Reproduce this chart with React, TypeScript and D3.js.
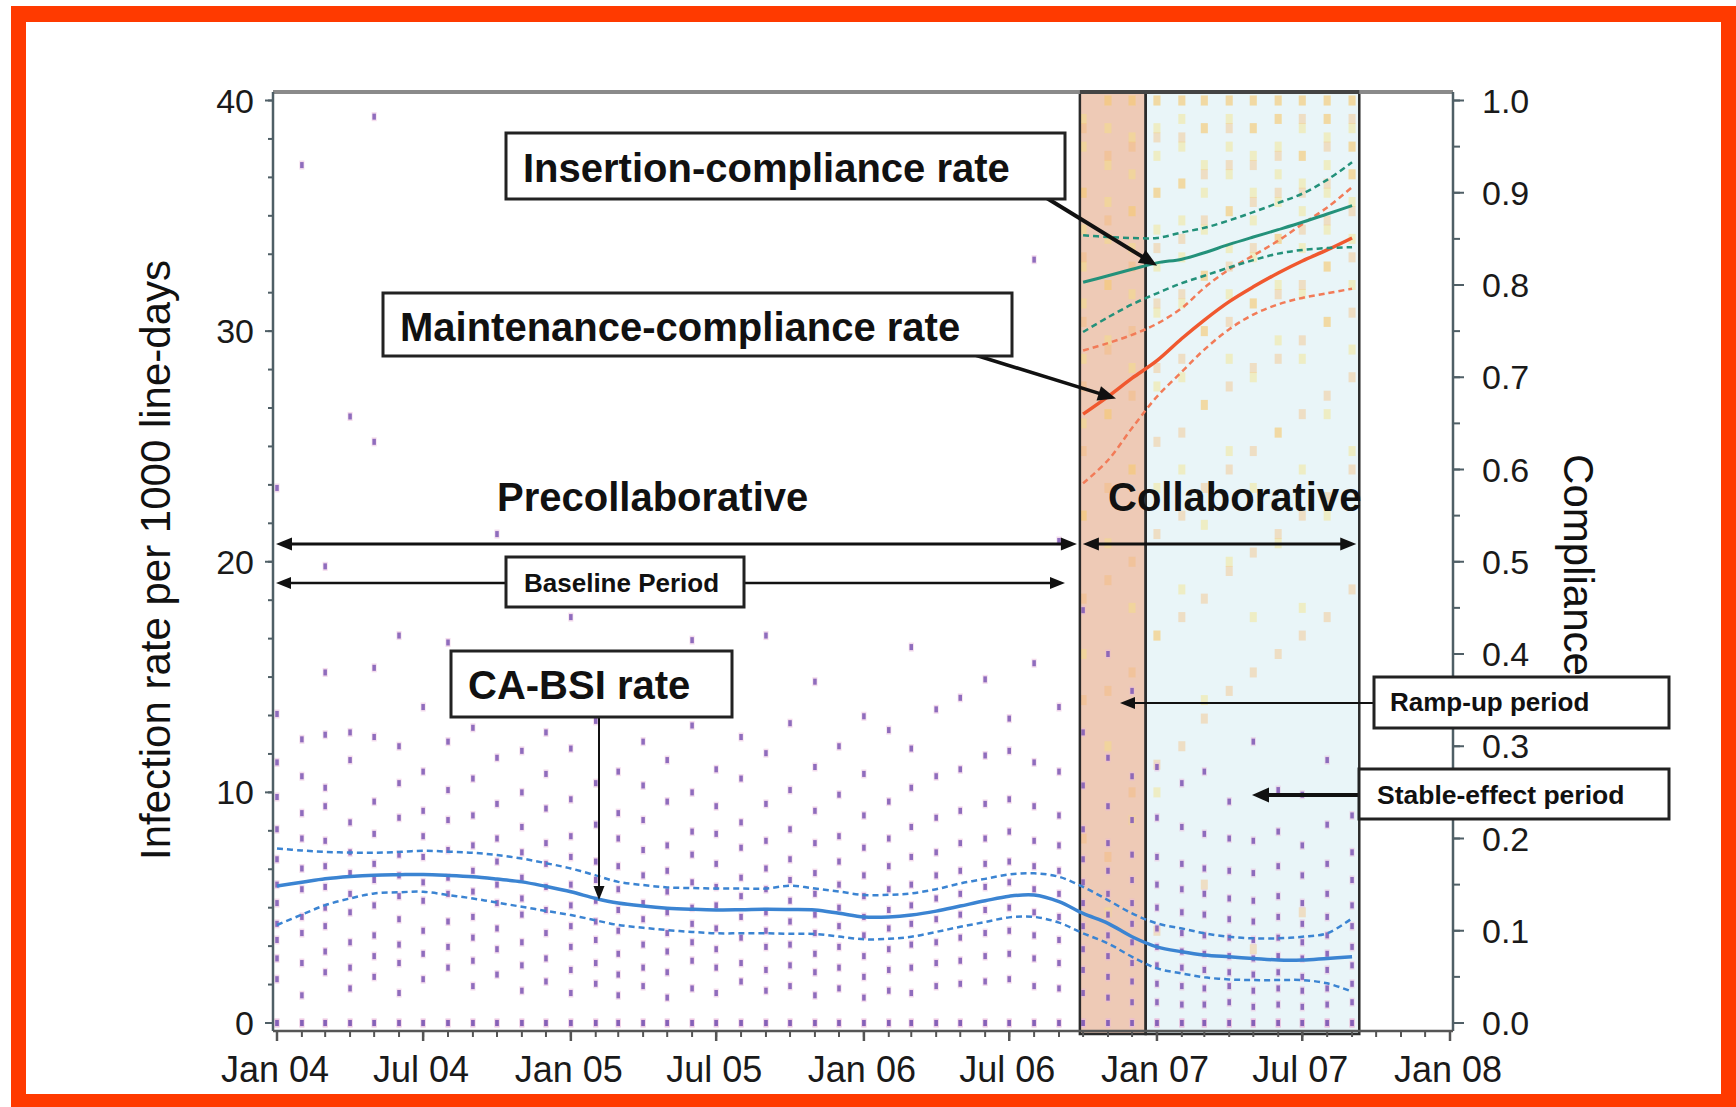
import React from 'react';
import * as d3 from 'd3';

const W = 1736;
const H = 1107;

// ---------- data ----------
const RATE_START = '2004-01-01';
const RATE_END = '2007-10-01'; // exclusive
const COMP_START = '2006-10-01';
const COMP_END = '2007-10-01'; // exclusive

// CA-BSI smoothed rate (per 1000 line-days), monthly Jan 04 .. Sep 07
const rateCurve = [5.94, 6.1, 6.25, 6.35, 6.41, 6.43, 6.44, 6.4, 6.34, 6.24, 6.12, 5.92,
  5.69, 5.4, 5.2, 5.07, 4.98, 4.93, 4.9, 4.91, 4.93, 4.92, 4.9, 4.76,
  4.6, 4.6, 4.68, 4.85, 5.07, 5.3, 5.5, 5.55, 5.26, 4.75, 4.32, 3.74,
  3.3, 3.09, 2.95, 2.87, 2.8, 2.73, 2.73, 2.8, 2.87];
const rateUpper = [7.57, 7.48, 7.42, 7.39, 7.38, 7.42, 7.47, 7.43, 7.38, 7.28, 7.13, 6.93,
  6.7, 6.4, 6.12, 5.98, 5.88, 5.85, 5.83, 5.83, 5.83, 5.95, 5.83, 5.7,
  5.55, 5.56, 5.62, 5.8, 6.05, 6.25, 6.44, 6.49, 6.34, 5.9, 5.33, 4.75,
  4.32, 4.1, 3.89, 3.74, 3.67, 3.67, 3.74, 3.89, 4.54];
const rateLower = [4.25, 4.7, 5.11, 5.4, 5.62, 5.67, 5.69, 5.55, 5.4, 5.22, 5.04, 4.86,
  4.68, 4.45, 4.25, 4.13, 4.03, 3.95, 3.89, 3.89, 3.89, 3.87, 3.86, 3.75,
  3.63, 3.65, 3.74, 3.95, 4.17, 4.38, 4.58, 4.6, 4.35, 3.89, 3.45, 2.87,
  2.37, 2.15, 1.98, 1.89, 1.86, 1.86, 1.86, 1.72, 1.36];

// monthly unit-level infection rates (scatter)
const ratePoints: number[][] = [
  [0, 0, 1.9, 2.8, 3.6, 4.3, 5.2, 6.0, 7.1, 8.4, 9.8, 11.3, 13.4, 23.2],
  [0, 0, 1.2, 2.6, 3.9, 4.6, 5.8, 6.7, 8.0, 9.1, 10.7, 12.3, 37.2],
  [0, 0, 2.2, 3.1, 4.2, 5.0, 5.9, 6.8, 7.9, 9.4, 10.2, 12.5, 15.2, 19.8],
  [0, 0, 1.5, 2.4, 3.5, 4.8, 5.6, 6.5, 7.4, 8.7, 11.4, 12.6, 26.3],
  [0, 0, 2.0, 2.9, 3.8, 5.1, 6.2, 6.9, 8.2, 9.6, 12.4, 15.4, 25.2, 39.3],
  [0, 0, 1.3, 2.6, 3.4, 4.5, 5.5, 6.4, 7.3, 8.9, 10.4, 12.0, 16.8],
  [0, 0, 1.9, 3.0, 4.0, 5.3, 6.1, 7.2, 8.1, 9.2, 10.9, 13.7],
  [0, 0, 2.4, 3.3, 4.4, 5.6, 6.3, 7.5, 8.8, 10.1, 12.2, 16.5],
  [0, 0, 1.6, 2.7, 3.7, 4.6, 5.7, 6.6, 7.7, 9.0, 10.6, 12.8],
  [0, 0, 2.1, 3.2, 4.1, 5.2, 6.0, 7.0, 8.0, 9.5, 11.5, 13.6, 21.2],
  [0, 0, 1.4, 2.5, 3.5, 4.7, 5.4, 6.3, 7.4, 8.5, 10.0, 11.8, 14.5],
  [0, 0, 1.8, 2.8, 3.9, 4.9, 5.9, 6.9, 7.8, 9.3, 10.8, 12.6],
  [0, 0, 1.3, 2.3, 3.3, 4.2, 5.1, 6.0, 7.2, 8.1, 9.7, 11.9, 17.6],
  [0, 0, 1.7, 2.6, 3.6, 4.4, 5.3, 6.2, 7.0, 8.6, 10.4, 13.1],
  [0, 0, 1.2, 2.1, 3.0, 4.0, 4.9, 5.8, 6.8, 8.0, 9.1, 10.9, 15.1],
  [0, 0, 1.6, 2.4, 3.4, 4.5, 5.2, 6.4, 7.5, 8.8, 10.3, 12.2],
  [0, 0, 1.1, 2.2, 3.1, 3.9, 4.8, 5.7, 6.6, 7.7, 9.6, 11.4, 14.0],
  [0, 0, 1.5, 2.7, 3.5, 4.3, 5.0, 6.1, 7.3, 8.3, 10.0, 12.9, 16.6],
  [0, 0, 1.3, 2.4, 3.2, 4.1, 5.1, 5.9, 6.9, 8.2, 9.4, 11.0],
  [0, 0, 1.8, 2.6, 3.7, 4.6, 5.5, 6.3, 7.6, 8.7, 10.6, 12.4],
  [0, 0, 1.4, 2.3, 3.3, 4.0, 4.8, 5.8, 6.7, 7.9, 9.5, 11.7, 16.8],
  [0, 0, 1.6, 2.5, 3.4, 4.4, 5.3, 6.2, 7.1, 8.4, 10.1, 13.0],
  [0, 0, 1.2, 2.2, 3.0, 3.9, 4.7, 5.6, 6.5, 7.8, 9.2, 11.1, 14.8],
  [0, 0, 1.5, 2.4, 3.3, 4.2, 5.0, 6.0, 7.0, 8.1, 9.9, 12.0],
  [0, 0, 1.1, 2.0, 2.9, 3.8, 4.6, 5.5, 6.4, 7.6, 9.0, 10.8, 13.3],
  [0, 0, 1.4, 2.3, 3.2, 4.1, 4.9, 5.8, 6.8, 8.0, 9.6, 12.7],
  [0, 0, 1.3, 2.4, 3.4, 4.3, 5.1, 6.0, 7.2, 8.5, 10.2, 11.9, 16.3],
  [0, 0, 1.6, 2.6, 3.5, 4.5, 5.4, 6.4, 7.4, 8.9, 10.7, 13.6],
  [0, 0, 1.7, 2.7, 3.7, 4.7, 5.6, 6.6, 7.8, 9.2, 11.0, 14.1],
  [0, 0, 1.8, 2.9, 3.9, 4.9, 5.9, 6.9, 8.0, 9.5, 11.6, 14.9],
  [0, 0, 1.9, 3.0, 4.0, 5.0, 6.1, 7.0, 8.3, 9.7, 11.8, 13.2],
  [0, 0, 1.6, 2.8, 3.8, 4.8, 5.8, 6.8, 7.9, 9.4, 11.3, 15.6, 33.1],
  [0, 0, 1.5, 2.6, 3.6, 4.6, 5.6, 6.6, 7.7, 9.0, 10.9, 13.7, 20.9],
  [0, 0, 1.3, 2.3, 3.2, 4.2, 5.2, 6.1, 7.1, 8.4, 10.3, 12.6, 17.9],
  [0, 0, 1.1, 2.0, 2.9, 3.8, 4.7, 5.6, 6.6, 7.8, 9.4, 11.5, 16.0],
  [0, 0, 0.9, 1.8, 2.6, 3.5, 4.3, 5.2, 6.2, 7.3, 8.8, 10.7, 14.4],
  [0, 0, 0, 0.9, 1.7, 2.5, 3.3, 4.1, 5.0, 6.0, 7.2, 8.9, 11.1],
  [0, 0, 0, 0.8, 1.6, 2.4, 3.1, 3.9, 4.8, 5.8, 6.9, 8.5, 10.4],
  [0, 0, 0, 0.8, 1.5, 2.3, 3.0, 3.8, 4.7, 5.6, 6.7, 8.2, 10.9],
  [0, 0, 0, 0.9, 1.6, 2.2, 2.9, 3.7, 4.5, 5.4, 6.6, 8.0, 9.6],
  [0, 0, 0, 0.7, 1.4, 2.1, 2.8, 3.6, 4.4, 5.3, 6.5, 7.9, 12.2],
  [0, 0, 0, 0.8, 1.5, 2.2, 2.9, 3.7, 4.6, 5.5, 6.8, 8.3, 10.1],
  [0, 0, 0, 0.7, 1.4, 2.0, 2.8, 3.5, 4.3, 5.2, 6.4, 7.7, 9.9],
  [0, 0, 0, 0.8, 1.5, 2.3, 3.0, 3.8, 4.6, 5.6, 6.9, 8.6, 11.4],
  [0, 0, 0, 0.9, 1.7, 2.5, 3.3, 4.2, 5.1, 6.2, 7.4, 9.0],
];

// compliance, monthly Oct 06 .. Sep 07
const insertionRate = [0.803, 0.81, 0.817, 0.824, 0.828, 0.835, 0.844, 0.852, 0.86, 0.868, 0.877, 0.886];
const insertionUpper = [0.854, 0.852, 0.851, 0.851, 0.857, 0.862, 0.87, 0.879, 0.889, 0.899, 0.914, 0.933];
const insertionLower = [0.749, 0.765, 0.779, 0.791, 0.802, 0.81, 0.819, 0.827, 0.834, 0.838, 0.84, 0.841];
const maintenanceRate = [0.66, 0.679, 0.699, 0.718, 0.742, 0.762, 0.782, 0.798, 0.813, 0.826, 0.838, 0.851];
const maintenanceUpper = [0.729, 0.737, 0.746, 0.758, 0.775, 0.797, 0.817, 0.832, 0.848, 0.866, 0.884, 0.906];
const maintenanceLower = [0.585, 0.61, 0.645, 0.679, 0.706, 0.73, 0.752, 0.768, 0.779, 0.786, 0.791, 0.796];

const insertionPoints: number[][] = [
  [0.98, 0.95, 0.9, 0.86, 0.82, 0.78, 0.72, 0.65, 0.55, 0.4],
  [1.0, 0.97, 0.93, 0.89, 0.85, 0.8, 0.74, 0.66, 0.52, 0.3, 0.12],
  [1.0, 0.96, 0.92, 0.88, 0.84, 0.79, 0.71, 0.6, 0.45, 0.22],
  [1.0, 0.97, 0.94, 0.9, 0.86, 0.82, 0.77, 0.69, 0.58, 0.42, 0.25],
  [1.0, 0.98, 0.95, 0.91, 0.87, 0.83, 0.78, 0.7, 0.6, 0.47],
  [1.0, 0.97, 0.93, 0.9, 0.86, 0.81, 0.75, 0.67, 0.54, 0.35],
  [1.0, 0.98, 0.95, 0.92, 0.88, 0.84, 0.79, 0.72, 0.62, 0.5],
  [1.0, 0.97, 0.94, 0.9, 0.87, 0.83, 0.78, 0.7, 0.58, 0.44],
  [1.0, 0.98, 0.95, 0.92, 0.89, 0.85, 0.8, 0.74, 0.64, 0.52],
  [1.0, 0.97, 0.94, 0.91, 0.88, 0.84, 0.79, 0.72, 0.6, 0.45],
  [1.0, 0.98, 0.96, 0.93, 0.9, 0.86, 0.82, 0.76, 0.66, 0.55],
  [1.0, 0.97, 0.95, 0.92, 0.89, 0.85, 0.8, 0.73, 0.62],
];
const maintenancePoints: number[][] = [
  [0.97, 0.9, 0.83, 0.76, 0.69, 0.62, 0.55, 0.46, 0.35, 0.2],
  [1.0, 0.94, 0.87, 0.8, 0.73, 0.66, 0.58, 0.48, 0.36, 0.18],
  [1.0, 0.95, 0.88, 0.82, 0.75, 0.68, 0.6, 0.5, 0.38, 0.25],
  [1.0, 0.96, 0.9, 0.84, 0.78, 0.71, 0.63, 0.53, 0.42, 0.28, 0.1],
  [1.0, 0.96, 0.91, 0.85, 0.79, 0.72, 0.64, 0.55, 0.44, 0.3],
  [1.0, 0.97, 0.92, 0.87, 0.81, 0.75, 0.67, 0.58, 0.46, 0.33, 0.15],
  [1.0, 0.97, 0.93, 0.88, 0.82, 0.76, 0.69, 0.6, 0.49, 0.36],
  [1.0, 0.97, 0.93, 0.89, 0.84, 0.78, 0.71, 0.62, 0.51, 0.38, 0.08],
  [1.0, 0.98, 0.94, 0.9, 0.85, 0.79, 0.72, 0.64, 0.53, 0.4],
  [1.0, 0.98, 0.94, 0.9, 0.86, 0.8, 0.74, 0.66, 0.55, 0.42, 0.12],
  [1.0, 0.98, 0.95, 0.91, 0.87, 0.82, 0.76, 0.68, 0.57, 0.44],
  [1.0, 0.98, 0.95, 0.92, 0.88, 0.83, 0.77, 0.7, 0.6, 0.47],
];

const periodBounds = ['2006-09-27', '2006-12-18', '2007-09-10']; // ramp-up start, stable start, end
const leftTicks = [0, 10, 20, 30, 40];
const rightTicks = [0, 0.1, 0.2, 0.3, 0.4, 0.5, 0.6, 0.7, 0.8, 0.9, 1.0];
const xDomain = ['2004-01-01', '2008-01-01'];

// ---------- helpers ----------
const parse = d3.timeParse('%Y-%m-%d');
const FONT = "'Liberation Sans', Arial, Helvetica, sans-serif";

const x = d3.scaleTime().domain(xDomain.map((s) => parse(s) as Date)).range([277, 1450]);
const yL = d3.scaleLinear().domain([0, 40]).range([1023, 100.5]);
const yR = d3.scaleLinear().domain([0, 1]).range([1023, 100.5]);

const rateMonths = d3.timeMonth.range(parse(RATE_START) as Date, parse(RATE_END) as Date);
const compMonths = d3.timeMonth.range(parse(COMP_START) as Date, parse(COMP_END) as Date);

const FRAME = { left: 273, right: 1453, top: 92, bottom: 1031 };

function linePath(dates: Date[], vals: number[], y: d3.ScaleLinear<number, number>) {
  const g = d3
    .line<number>()
    .x((_, i) => x(dates[i]))
    .y((v) => y(v))
    .curve(d3.curveCatmullRom.alpha(0.5));
  return g(vals) || '';
}

function arrowHead(x2: number, y2: number, ang: number, len: number, wid: number) {
  const bx = x2 - len * Math.cos(ang);
  const by = y2 - len * Math.sin(ang);
  const px = -Math.sin(ang) * wid / 2;
  const py = Math.cos(ang) * wid / 2;
  return `M${x2},${y2}L${bx + px},${by + py}L${bx - px},${by - py}Z`;
}

function Arrow(props: { x1: number; y1: number; x2: number; y2: number; w: number; len: number; wid: number; both?: boolean }) {
  const { x1, y1, x2, y2, w, len, wid, both } = props;
  const ang = Math.atan2(y2 - y1, x2 - x1);
  const sx = both ? x1 + (len - 2) * Math.cos(ang) : x1;
  const sy = both ? y1 + (len - 2) * Math.sin(ang) : y1;
  const ex = x2 - (len - 2) * Math.cos(ang);
  const ey = y2 - (len - 2) * Math.sin(ang);
  return (
    <g>
      <line x1={sx} y1={sy} x2={ex} y2={ey} stroke="#111" strokeWidth={w} />
      <path d={arrowHead(x2, y2, ang, len, wid)} fill="#111" />
      {both && <path d={arrowHead(x1, y1, ang + Math.PI, len, wid)} fill="#111" />}
    </g>
  );
}

function Box(props: { x0: number; y0: number; x1: number; y1: number; label: string; size: number; tx: number; ty: number }) {
  const { x0, y0, x1, y1, label, size, tx, ty } = props;
  return (
    <g>
      <rect x={x0} y={y0} width={x1 - x0} height={y1 - y0} fill="#fff" stroke="#222" strokeWidth={3} />
      <text x={tx} y={ty} fontSize={size} fontWeight="bold" fontFamily={FONT} fill="#111">
        {label}
      </text>
    </g>
  );
}

export default function App() {
  const pb = periodBounds.map((s) => x(parse(s) as Date));
  const leftMinor = d3.range(0, 40.001, 10 / 6);
  const rightMinor = d3.range(0, 1.0001, 0.05);
  const monthTicks = d3.timeMonth.range(parse(xDomain[0]) as Date, d3.timeDay.offset(parse(xDomain[1]) as Date, 1));
  const majorTicks = d3.timeMonth.every(6)!.range(parse(xDomain[0]) as Date, d3.timeDay.offset(parse(xDomain[1]) as Date, 1));
  const fmt = d3.timeFormat('%b %y');

  const blue = '#3b84d2';
  const teal = '#23917a';
  const orange = '#f0582f';

  return (
    <svg width={W} height={H} style={{ position: 'absolute', left: 0, top: 0, background: '#fff' }}>
      {/* red frame */}
      <rect x={0} y={0} width={W} height={H} fill="#fff" />
      <rect x={11} y={6} width={W - 11} height={H - 6} fill="#ff3a00" />
      <rect x={26} y={22} width={1721 - 26} height={1094 - 22} fill="#fff" />

      {/* period bands */}
      <rect x={pb[0]} y={FRAME.top} width={pb[1] - pb[0]} height={1034 - FRAME.top} fill="#eecab6" />
      <rect x={pb[1]} y={FRAME.top} width={pb[2] - pb[1]} height={1034 - FRAME.top} fill="#e9f5f8" />

      {/* compliance scatter */}
      <g>
        {compMonths.map((d, i) => (
          <g key={'ip' + i}>
            {insertionPoints[i].map((v, j) => (
              <rect key={j} x={x(d) - 3.5} y={yR(v) - 5} width={7} height={10} fill="#f6e27c" opacity={0.42} />
            ))}
            {maintenancePoints[i].map((v, j) => (
              <rect key={'m' + j} x={x(d) - 3.5} y={yR(v) - 5} width={7} height={10} fill="#f6b86e" opacity={0.38} />
            ))}
          </g>
        ))}
      </g>

      {/* infection-rate scatter */}
      <g>
        {rateMonths.map((d, i) => (
          <g key={'rp' + i}>
            {ratePoints[i].map((v, j) => (
              <g key={j}>
                <rect x={x(d) - 2.5} y={yL(v) - 4.5} width={5} height={9} fill="#eab9dc" opacity={0.5} />
                <rect x={x(d) - 1.75} y={yL(v) - 3} width={3.5} height={6} fill="#7c58b4" opacity={0.85} />
              </g>
            ))}
          </g>
        ))}
      </g>

      {/* band outlines */}
      <rect x={pb[0]} y={FRAME.top} width={pb[1] - pb[0]} height={1034 - FRAME.top} fill="none" stroke="#2b2b2b" strokeWidth={2.5} />
      <rect x={pb[1]} y={FRAME.top} width={pb[2] - pb[1]} height={1034 - FRAME.top} fill="none" stroke="#2b2b2b" strokeWidth={2.5} />

      {/* CA-BSI curves */}
      <path d={linePath(rateMonths, rateUpper, yL)} fill="none" stroke={blue} strokeWidth={2.5} strokeDasharray="6,4" />
      <path d={linePath(rateMonths, rateLower, yL)} fill="none" stroke={blue} strokeWidth={2.5} strokeDasharray="6,4" />
      <path d={linePath(rateMonths, rateCurve, yL)} fill="none" stroke={blue} strokeWidth={3.5} />

      {/* compliance curves */}
      <path d={linePath(compMonths, maintenanceUpper, yR)} fill="none" stroke="#f27b58" strokeWidth={2.5} strokeDasharray="6,4" />
      <path d={linePath(compMonths, maintenanceLower, yR)} fill="none" stroke="#f27b58" strokeWidth={2.5} strokeDasharray="6,4" />
      <path d={linePath(compMonths, maintenanceRate, yR)} fill="none" stroke={orange} strokeWidth={3.5} />
      <path d={linePath(compMonths, insertionUpper, yR)} fill="none" stroke={teal} strokeWidth={2.5} strokeDasharray="6,4" />
      <path d={linePath(compMonths, insertionLower, yR)} fill="none" stroke={teal} strokeWidth={2.5} strokeDasharray="6,4" />
      <path d={linePath(compMonths, insertionRate, yR)} fill="none" stroke={teal} strokeWidth={3} />

      {/* frame / axes */}
      <line x1={FRAME.left} y1={FRAME.top} x2={FRAME.right} y2={FRAME.top} stroke="#8a8a8a" strokeWidth={4} />
      <line x1={pb[0]} y1={FRAME.top} x2={pb[2]} y2={FRAME.top} stroke="#444" strokeWidth={4} />
      <line x1={FRAME.left} y1={FRAME.top} x2={FRAME.left} y2={FRAME.bottom} stroke="#4f5f66" strokeWidth={2.5} />
      <line x1={FRAME.right} y1={FRAME.top} x2={FRAME.right} y2={FRAME.bottom} stroke="#4f5f66" strokeWidth={2.5} />
      <line x1={FRAME.left} y1={FRAME.bottom} x2={FRAME.right} y2={FRAME.bottom} stroke="#555" strokeWidth={2.5} />

      {/* left axis ticks */}
      {leftMinor.map((v, i) => (
        <line key={'lm' + i} x1={FRAME.left - 5} x2={FRAME.left} y1={yL(v)} y2={yL(v)} stroke="#4f5f66" strokeWidth={2} />
      ))}
      {leftTicks.map((v) => (
        <g key={'lt' + v}>
          <line x1={FRAME.left - 8} x2={FRAME.left} y1={yL(v)} y2={yL(v)} stroke="#4f5f66" strokeWidth={2} />
          <text x={254} y={yL(v) + 12} textAnchor="end" fontSize={34} fontFamily={FONT} fill="#1a1a1a">
            {v}
          </text>
        </g>
      ))}

      {/* right axis ticks */}
      {rightMinor.map((v, i) => (
        <line key={'rm' + i} x1={FRAME.right} x2={FRAME.right + 7} y1={yR(v)} y2={yR(v)} stroke="#4f5f66" strokeWidth={2} />
      ))}
      {rightTicks.map((v) => (
        <g key={'rt' + v}>
          <line x1={FRAME.right} x2={FRAME.right + 11} y1={yR(v)} y2={yR(v)} stroke="#4f5f66" strokeWidth={2} />
          <text x={1482} y={yR(v) + 12} fontSize={34} fontFamily={FONT} fill="#1a1a1a">
            {v.toFixed(1)}
          </text>
        </g>
      ))}

      {/* x axis ticks */}
      {monthTicks.map((d, i) => (
        <line key={'xm' + i} x1={x(d)} x2={x(d)} y1={FRAME.bottom} y2={FRAME.bottom + 6} stroke="#555" strokeWidth={2} />
      ))}
      {majorTicks.map((d, i) => (
        <g key={'xM' + i}>
          <line x1={x(d)} x2={x(d)} y1={FRAME.bottom} y2={FRAME.bottom + 10} stroke="#555" strokeWidth={2.5} />
          <text x={x(d) - 2} y={1082} textAnchor="middle" fontSize={36} fontFamily={FONT} fill="#1a1a1a">
            {fmt(d)}
          </text>
        </g>
      ))}

      {/* axis titles */}
      <text transform="translate(155,560) rotate(-90)" textAnchor="middle" dominantBaseline="central" fontSize={42} fontFamily={FONT} fill="#111">
        Infection rate per 1000 line-days
      </text>
      <text transform="translate(1578,565) rotate(90)" textAnchor="middle" dominantBaseline="central" fontSize={42} fontFamily={FONT} fill="#111">
        Compliance
      </text>

      {/* period labels and arrows */}
      <text x={497} y={511} fontSize={40} fontWeight="bold" fontFamily={FONT} fill="#111">Precollaborative</text>
      <text x={1108} y={511} fontSize={40} fontWeight="bold" fontFamily={FONT} fill="#111">Collaborative</text>
      <Arrow x1={FRAME.left + 3} y1={544} x2={pb[0] - 3} y2={544} w={3} len={16} wid={13} both />
      <Arrow x1={pb[0] + 3} y1={544} x2={pb[2] - 3} y2={544} w={3} len={16} wid={13} both />
      <Arrow x1={FRAME.left + 3} y1={583} x2={1065} y2={583} w={2.5} len={15} wid={12} both />
      <Box x0={506} y0={557} x1={744} y1={607} label="Baseline Period" size={26} tx={524} ty={592} />

      {/* compliance annotations */}
      <Arrow x1={1045} y1={197} x2={x(compMonths[2]) + 25} y2={yR(insertionRate[2] + 0.006) + 2} w={4} len={18} wid={15} />
      <Box x0={506} y0={133} x1={1065} y1={199} label="Insertion-compliance rate" size={40} tx={523} ty={182} />
      <Arrow x1={975} y1={355} x2={x(compMonths[1]) + 8} y2={yR(maintenanceRate[1]) + 2} w={3.5} len={18} wid={15} />
      <Box x0={383} y0={293} x1={1012} y1={356} label="Maintenance-compliance rate" size={40} tx={400} ty={341} />

      {/* CA-BSI annotation */}
      <Arrow x1={599} y1={717} x2={599} y2={yL(5.2) - 3} w={2} len={14} wid={11} />
      <Box x0={451} y0={651} x1={732} y1={717} label="CA-BSI rate" size={40} tx={468} ty={699} />

      {/* ramp-up / stable annotations */}
      <Arrow x1={1374} y1={703} x2={1120} y2={703} w={2} len={15} wid={12} />
      <Box x0={1374} y0={677} x1={1669} y1={728} label="Ramp-up period" size={26} tx={1390} ty={711} />
      <Arrow x1={1359} y1={795} x2={1252} y2={795} w={4} len={17} wid={15} />
      <Box x0={1359} y0={769} x1={1669} y1={819} label="Stable-effect period" size={26.5} tx={1377} ty={804} />
    </svg>
  );
}
